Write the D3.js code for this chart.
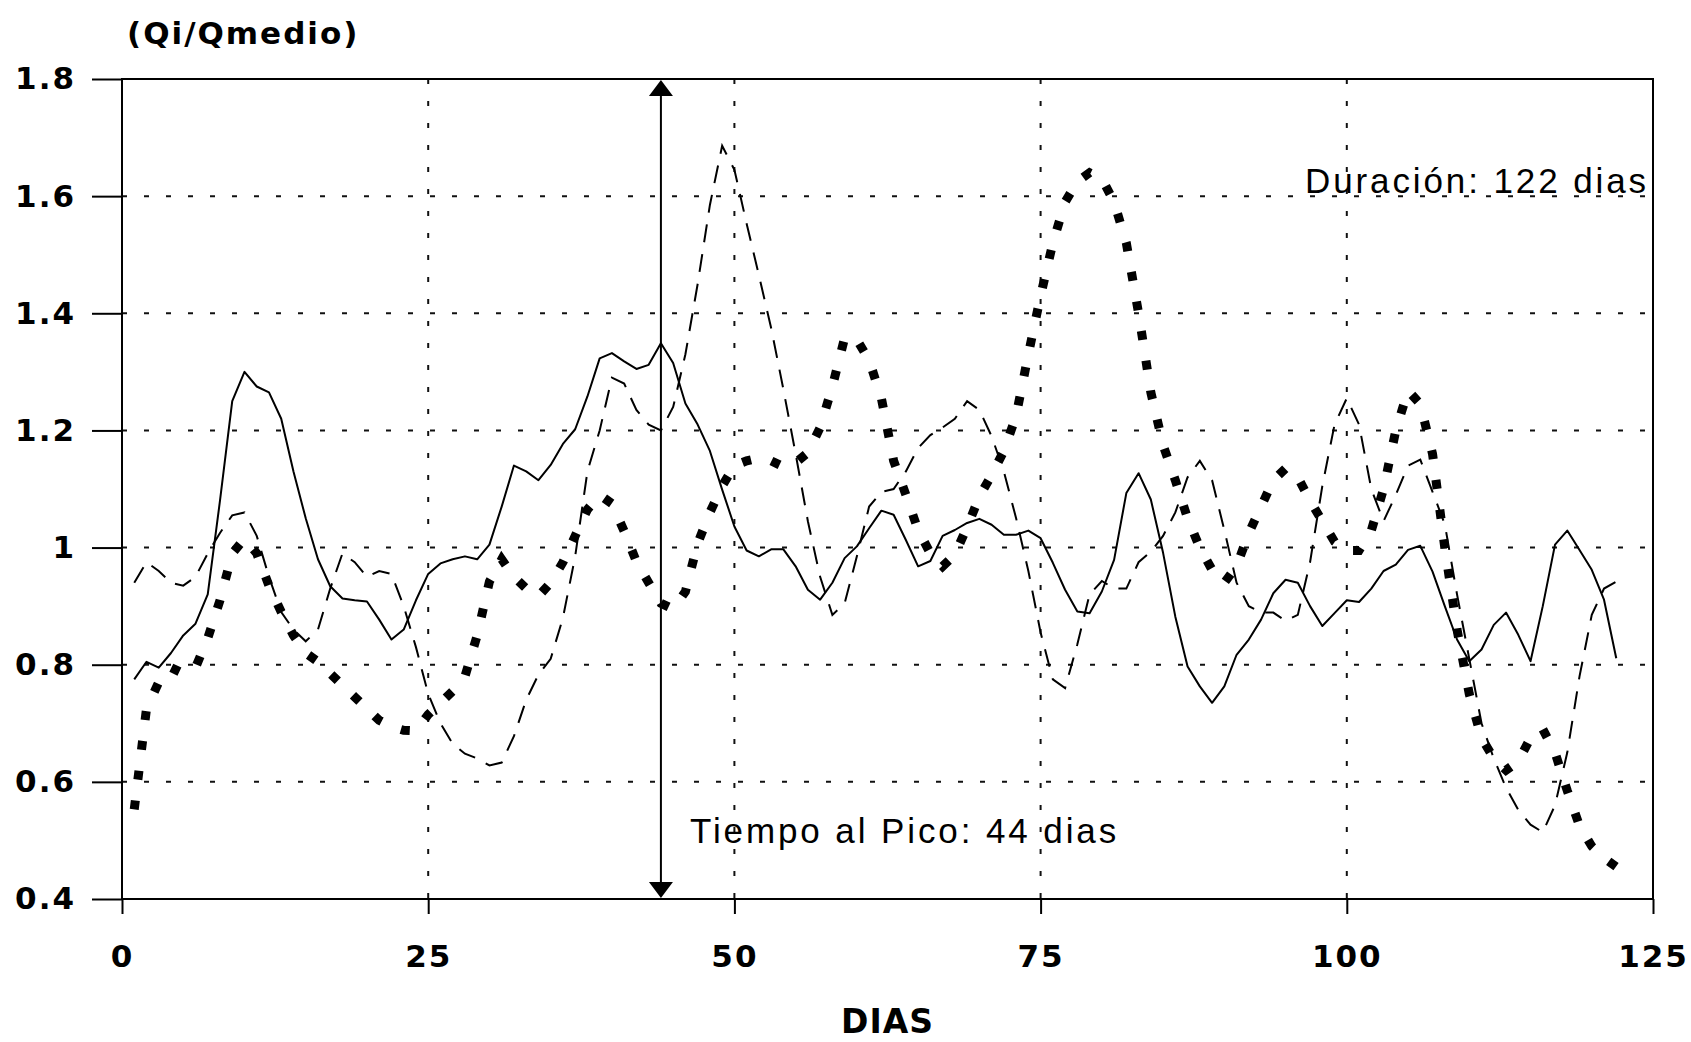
<!DOCTYPE html>
<html>
<head>
<meta charset="utf-8">
<script src="https://cdn.jsdelivr.net/npm/d3@7"></script>
<style>
  body { margin: 0; background: #fff; }
  svg { display: block; }
</style>
</head>
<body>
<div id="hydrograph-chart"></div>
<script>
const dayTicks = [0, 25, 50, 75, 100, 125];
const ratioTicks = [0.4, 0.6, 0.8, 1, 1.2, 1.4, 1.6, 1.8];

// Qi/Qmedio por dia (dias 1..122), tres crecidas
const solidSeries = [
  0.775, 0.805, 0.795, 0.82, 0.85, 0.87, 0.92, 1.08, 1.25, 1.30,
  1.275, 1.265, 1.22, 1.13, 1.05, 0.98, 0.934, 0.913, 0.91, 0.908,
  0.877, 0.843, 0.86, 0.91, 0.955, 0.973, 0.98, 0.985, 0.98, 1.005,
  1.07, 1.14, 1.13, 1.115, 1.141, 1.177, 1.202, 1.258, 1.323, 1.332,
  1.318, 1.305, 1.312, 1.349, 1.315, 1.246, 1.21, 1.165, 1.099, 1.036,
  0.995, 0.985, 0.997, 0.997, 0.968, 0.928, 0.911, 0.94, 0.982, 1.002,
  1.033, 1.063, 1.056, 1.013, 0.968, 0.977, 1.02, 1.03, 1.042, 1.049,
  1.039, 1.022, 1.022, 1.029, 1.016, 0.974, 0.928, 0.891, 0.888, 0.925,
  0.979, 1.093, 1.127, 1.082, 0.991, 0.882, 0.797, 0.763, 0.735, 0.763,
  0.817, 0.843, 0.877, 0.922, 0.945, 0.94, 0.90, 0.866, 0.888, 0.91,
  0.907, 0.93, 0.96, 0.971, 0.996, 1.003, 0.959, 0.90, 0.843, 0.806,
  0.826, 0.868, 0.889, 0.851, 0.806, 0.90, 1.005, 1.029, 0.996, 0.962,
  0.911, 0.811
];

const dashedSeries = [
  0.94, 0.975, 0.96, 0.94, 0.935, 0.95, 0.99, 1.025, 1.055, 1.06,
  1.02, 0.95, 0.89, 0.86, 0.84, 0.86, 0.93, 0.99, 0.975, 0.95,
  0.96, 0.955, 0.90, 0.83, 0.75, 0.70, 0.665, 0.648, 0.64, 0.628,
  0.633, 0.678, 0.74, 0.783, 0.81, 0.88, 0.985, 1.13, 1.20, 1.29,
  1.28, 1.235, 1.21, 1.20, 1.24, 1.33, 1.45, 1.585, 1.686, 1.645,
  1.553, 1.465, 1.375, 1.27, 1.16, 1.045, 0.95, 0.885, 0.905, 0.985,
  1.07, 1.095, 1.10, 1.13, 1.17, 1.192, 1.205, 1.22, 1.25, 1.235,
  1.19, 1.13, 1.05, 0.96, 0.855, 0.775, 0.76, 0.835, 0.92, 0.943,
  0.93, 0.93, 0.975, 0.993, 1.02, 1.06, 1.12, 1.148, 1.115, 1.03,
  0.94, 0.90, 0.889, 0.889, 0.875, 0.885, 0.975, 1.105, 1.21, 1.255,
  1.21, 1.10, 1.045, 1.09, 1.14, 1.15, 1.095, 1.04, 0.92, 0.81,
  0.70, 0.64, 0.59, 0.552, 0.527, 0.514, 0.56, 0.65, 0.78, 0.885,
  0.93, 0.942
];

const dottedSeries = [
  0.553, 0.725, 0.77, 0.795, 0.785, 0.795, 0.845, 0.91, 0.99, 1.015,
  0.99, 0.935, 0.89, 0.85, 0.82, 0.805, 0.785, 0.765, 0.745, 0.725,
  0.705, 0.694, 0.688, 0.687, 0.715, 0.735, 0.755, 0.78, 0.85, 0.942,
  0.98, 0.95, 0.93, 0.917, 0.94, 0.975, 1.02, 1.065, 1.09, 1.075,
  1.028, 0.976, 0.94, 0.905, 0.895, 0.925, 1.007, 1.06, 1.105, 1.14,
  1.148, 1.153, 1.148, 1.138, 1.145, 1.162, 1.205, 1.275, 1.358, 1.355,
  1.32, 1.255, 1.148, 1.09, 1.03, 0.99, 0.968, 0.988, 1.035, 1.087,
  1.124, 1.165, 1.225, 1.33, 1.43, 1.52, 1.59, 1.625, 1.64, 1.63,
  1.59, 1.52, 1.40, 1.265, 1.175, 1.115, 1.05, 1.0, 0.962, 0.94,
  0.968, 1.025, 1.07, 1.115, 1.135, 1.12, 1.08, 1.045, 1.01, 0.995,
  0.995, 1.029, 1.10, 1.20, 1.268, 1.245, 1.16, 1.0, 0.86, 0.75,
  0.675, 0.64, 0.62, 0.635, 0.675, 0.69, 0.65, 0.585, 0.525, 0.49,
  0.47, 0.455
];

const peakDay = 44;
const durationDays = 122;

const chartWidth = 1691, chartHeight = 1042;
const margin = { top: 79, right: 38, bottom: 143, left: 122 };

const x = d3.scaleLinear().domain([0, 125]).range([margin.left, chartWidth - margin.right]);
const y = d3.scaleLinear().domain([0.4, 1.8]).range([chartHeight - margin.bottom, margin.top]);

const svg = d3.select("#hydrograph-chart")
  .append("svg")
  .attr("width", chartWidth)
  .attr("height", chartHeight)
  .style("background", "#fff");

// rejilla punteada
svg.append("g")
  .selectAll("line")
  .data(ratioTicks.filter(v => v > 0.4 && v < 1.8))
  .enter()
  .append("line")
  .attr("x1", x(0)).attr("x2", x(125))
  .attr("y1", d => y(d)).attr("y2", d => y(d))
  .attr("stroke", "#111")
  .attr("stroke-width", 2)
  .attr("stroke-dasharray", "5,17");

svg.append("g")
  .selectAll("line")
  .data(dayTicks.filter(v => v > 0 && v < 125))
  .enter()
  .append("line")
  .attr("x1", d => x(d)).attr("x2", d => x(d))
  .attr("y1", y(1.8)).attr("y2", y(0.4))
  .attr("stroke", "#111")
  .attr("stroke-width", 2)
  .attr("stroke-dasharray", "5,17");

// ejes
const yAxis = svg.append("g")
  .attr("transform", `translate(${x(0)},0)`)
  .call(d3.axisLeft(y).tickValues(ratioTicks).tickSize(30).tickPadding(16).tickFormat(d => String(d)));

const xAxis = svg.append("g")
  .attr("transform", `translate(0,${y(0.4)})`)
  .call(d3.axisBottom(x).tickValues(dayTicks).tickSize(15).tickPadding(31).tickFormat(d => String(d)));

[yAxis, xAxis].forEach(ax => {
  ax.select(".domain").remove();
  ax.selectAll(".tick line").attr("stroke", "#000").attr("stroke-width", 2);
  ax.selectAll(".tick text")
    .attr("fill", "#000")
    .style("font-family", "'DejaVu Sans', sans-serif")
    .style("font-weight", "bold")
    .style("font-size", "31px")
    .style("letter-spacing", "2px");
});

svg.append("rect")
  .attr("x", x(0)).attr("y", y(1.8))
  .attr("width", x(125) - x(0))
  .attr("height", y(0.4) - y(1.8))
  .attr("fill", "none")
  .attr("stroke", "#000")
  .attr("stroke-width", 2);

// series
const line = d3.line()
  .x((d, i) => x(i + 1))
  .y(d => y(d));

svg.append("path")
  .datum(solidSeries)
  .attr("fill", "none")
  .attr("stroke", "#000")
  .attr("stroke-width", 2)
  .attr("stroke-linejoin", "round")
  .attr("d", line);

svg.append("path")
  .datum(dashedSeries)
  .attr("fill", "none")
  .attr("stroke", "#000")
  .attr("stroke-width", 2)
  .attr("stroke-dasharray", "18,12")
  .attr("d", line);

svg.append("path")
  .datum(dottedSeries)
  .attr("fill", "none")
  .attr("stroke", "#000")
  .attr("stroke-width", 9)
  .attr("stroke-dasharray", "9,21")
  .attr("d", line);

// flecha del tiempo al pico
const ax = x(peakDay);
svg.append("line")
  .attr("x1", ax).attr("x2", ax)
  .attr("y1", y(1.8) + 14).attr("y2", y(0.4) - 14)
  .attr("stroke", "#000")
  .attr("stroke-width", 2);

svg.append("path")
  .attr("d", `M${ax},${y(1.8) + 1} L${ax - 12},${y(1.8) + 17} L${ax + 12},${y(1.8) + 17} Z`)
  .attr("fill", "#000");

svg.append("path")
  .attr("d", `M${ax},${y(0.4) - 1} L${ax - 12},${y(0.4) - 17} L${ax + 12},${y(0.4) - 17} Z`)
  .attr("fill", "#000");

// textos
svg.append("text")
  .attr("x", 127).attr("y", 44)
  .style("font-family", "'DejaVu Sans', sans-serif")
  .style("font-weight", "bold")
  .style("font-size", "31px")
  .style("letter-spacing", "2px")
  .text("(Qi/Qmedio)");

svg.append("text")
  .attr("x", (x(0) + x(125)) / 2).attr("y", 1033)
  .attr("text-anchor", "middle")
  .style("font-family", "'DejaVu Sans', sans-serif")
  .style("font-weight", "bold")
  .style("font-size", "33px")
  .style("letter-spacing", "1px")
  .text("DIAS");

svg.append("text")
  .attr("x", x(125) - 4).attr("y", y(1.6) - 3)
  .attr("text-anchor", "end")
  .style("font-family", "'Liberation Sans', Arial, sans-serif")
  .style("font-size", "35px")
  .style("letter-spacing", "2.9px")
  .text(`Duración: ${durationDays} dias`);

svg.append("text")
  .attr("x", ax + 29).attr("y", y(0.4) - 56)
  .style("font-family", "'Liberation Sans', Arial, sans-serif")
  .style("font-size", "35px")
  .style("letter-spacing", "2.9px")
  .text(`Tiempo al Pico: ${peakDay} dias`);
</script>
</body>
</html>
